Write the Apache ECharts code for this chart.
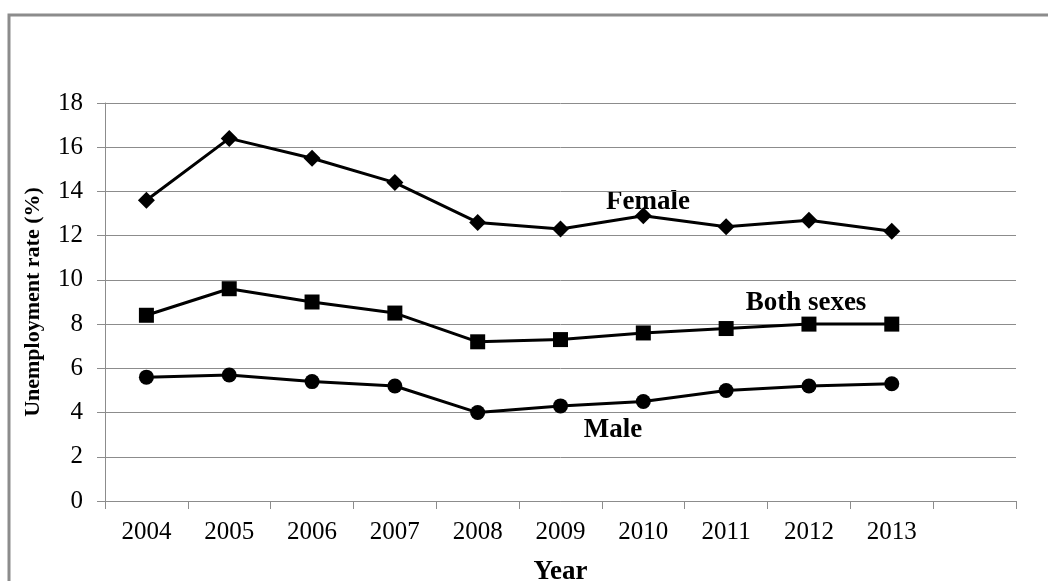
<!DOCTYPE html>
<html>
<head>
<meta charset="utf-8">
<script src="https://cdn.jsdelivr.net/npm/echarts@6/dist/echarts.min.js"></script>
<style>
  html, body { margin: 0; padding: 0; background: #fff; }
  #chart { width: 1048px; height: 581px; }
</style>
</head>
<body>
<div id="chart"></div>
<script>
var years = ['2004', '2005', '2006', '2007', '2008', '2009', '2010', '2011', '2012', '2013', '']
var female = [13.6, 16.4, 15.5, 14.4, 12.6, 12.3, 12.9, 12.4, 12.7, 12.2]
var bothSexes = [8.4, 9.6, 9.0, 8.5, 7.2, 7.3, 7.6, 7.8, 8.0, 8.0]
var male = [5.6, 5.7, 5.4, 5.2, 4.0, 4.3, 4.5, 5.0, 5.2, 5.3]

var font = '"Liberation Serif", "Times New Roman", serif'
var gray = '#8c8c8c'

function lineSeries(name, data, symbol, size) {
  return {
    name: name,
    type: 'line',
    data: data,
    symbol: symbol,
    symbolSize: size,
    showAllSymbol: true,
    lineStyle: { color: '#000', width: 3 },
    itemStyle: { color: '#000' }
  }
}

function note(text, x, y) {
  return {
    type: 'text', x: x, y: y,
    style: { text: text, font: 'bold 27px ' + font, fill: '#000', align: 'center', verticalAlign: 'middle' }
  }
}

var chart = echarts.init(document.getElementById('chart'))
chart.setOption({
  animation: false,
  grid: { left: 105, right: 32, top: 103, bottom: 80, outerBoundsMode: 'none' },
  graphic: [
    {
      type: 'rect',
      shape: { x: 9, y: 15, width: 1100, height: 620 },
      style: { fill: 'none', stroke: gray, lineWidth: 3 }
    },
    note('Female', 648, 202),
    note('Both sexes', 806, 303),
    note('Male', 613, 430)
  ],
  xAxis: {
    type: 'category',
    data: years,
    boundaryGap: true,
    name: 'Year',
    nameLocation: 'middle',
    nameGap: 58,
    nameTextStyle: { fontFamily: font, fontSize: 27, fontWeight: 'bold', color: '#000' },
    axisLine: { lineStyle: { color: gray, width: 1 } },
    axisTick: { show: true, length: 8, lineStyle: { color: gray } },
    axisLabel: { fontFamily: font, fontSize: 25, color: '#000', margin: 19 }
  },
  yAxis: {
    type: 'value',
    min: 0,
    max: 18,
    interval: 2,
    name: 'Unemployment rate (%)',
    nameLocation: 'middle',
    nameGap: 61,
    nameTextStyle: { fontFamily: font, fontSize: 22, fontWeight: 'bold', color: '#000' },
    axisLine: { show: true, lineStyle: { color: gray, width: 1 } },
    axisTick: { show: true, length: 8, lineStyle: { color: gray } },
    axisLabel: { fontFamily: font, fontSize: 25, color: '#000', margin: 22 },
    splitLine: { lineStyle: { color: gray, width: 1 } }
  },
  series: [
    lineSeries('Female', female, 'diamond', 17),
    lineSeries('Both sexes', bothSexes, 'rect', 15),
    lineSeries('Male', male, 'circle', 15)
  ]
})
</script>
</body>
</html>
